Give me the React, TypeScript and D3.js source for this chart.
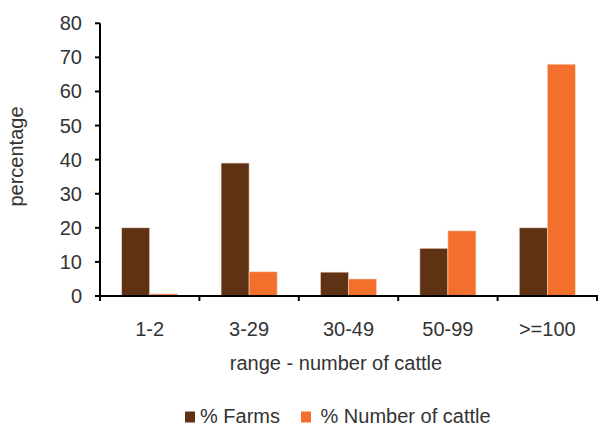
import React from "react";
import * as d3 from "d3";

const categories = ["1-2", "3-29", "30-49", "50-99", ">=100"];
const farms = [20, 39, 7, 14, 20];
const cattle = [0.6, 7.1, 5, 19.1, 68];
const yTicks = [0, 10, 20, 30, 40, 50, 60, 70, 80];
const seriesNames = ["% Farms", "% Number of cattle"];
const colors = ["#5E3213", "#F2702B"];

export default function App() {
  const W = 599, H = 425;
  const left = 100, right = 597, top = 23.3, bottom = 296;
  const x = d3.scaleBand<string>().domain(categories).range([left, right]).paddingInner(0).paddingOuter(0);
  const y = d3.scaleLinear().domain([0, 80]).range([bottom, top]);
  const bw = x.bandwidth();
  const barW = bw * 0.282;
  const gap = (bw - 2 * barW) / 2;
  const font = "'Liberation Sans', Arial, sans-serif";
  const series = [farms, cattle];
  const fs = 20;
  return (
    <svg width={W} height={H} style={{ position: "absolute", left: 0, top: 0 }} fontFamily={font}>
      <rect x={0} y={0} width={W} height={H} fill="#fff" />
      {series.map((vals, si) =>
        vals.map((v, i) => (
          <rect
            key={`${si}-${i}`}
            x={(x(categories[i]) as number) + gap + si * barW}
            y={y(v)}
            width={barW}
            height={bottom - y(v)}
            fill={colors[si]}
            stroke="#f3d9c8"
            strokeWidth={0.6}
          />
        ))
      )}
      {/* y axis */}
      <line x1={left} x2={left} y1={top} y2={bottom} stroke="#000" strokeWidth={2} />
      {yTicks.map((t) => (
        <g key={t}>
          <line x1={left - 5} x2={left} y1={y(t)} y2={y(t)} stroke="#000" strokeWidth={2} />
          <text x={82} y={y(t)} dy="0.35em" textAnchor="end" fontSize={fs} fill="#333">
            {t}
          </text>
        </g>
      ))}
      {/* x axis */}
      <line x1={left - 5} x2={right + 1} y1={bottom} y2={bottom} stroke="#000" strokeWidth={2} />
      {[...categories.map((c) => x(c) as number), right].map((px, i) => (
        <line key={i} x1={px} x2={px} y1={bottom} y2={bottom + 5} stroke="#000" strokeWidth={2} />
      ))}
      {categories.map((c) => (
        <text key={c} x={(x(c) as number) + bw / 2} y={335.5} textAnchor="middle" fontSize={fs} fill="#333">
          {c}
        </text>
      ))}
      <text x={336} y={369.5} textAnchor="middle" fontSize={fs} fill="#333">
        range - number of cattle
      </text>
      <text transform={`translate(22.5,156.5) rotate(-90)`} textAnchor="middle" fontSize={fs} fill="#333">
        percentage
      </text>
      {/* legend */}
      <rect x={185} y={411.5} width={10} height={11} fill={colors[0]} />
      <text x={200} y={422.5} fontSize={fs} fill="#333">{seriesNames[0]}</text>
      <rect x={301} y={411.5} width={10} height={11} fill={colors[1]} />
      <text x={320.5} y={422.5} fontSize={fs} fill="#333">{seriesNames[1]}</text>
    </svg>
  );
}
